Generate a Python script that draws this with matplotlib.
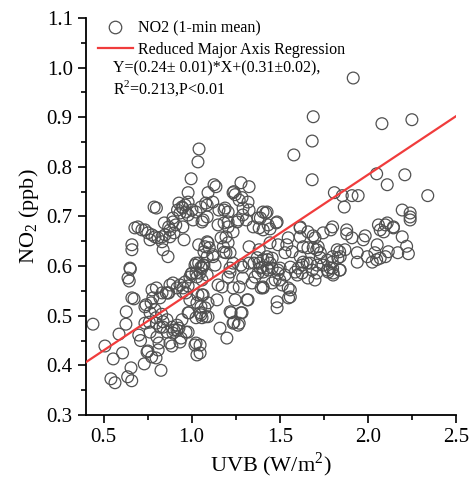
import matplotlib
matplotlib.use("Agg")
import matplotlib.pyplot as plt
from matplotlib.lines import Line2D
import numpy as np

plt.rcParams['font.family'] = ['Liberation Serif', 'DejaVu Serif']
plt.rcParams['mathtext.fontset'] = 'custom'
plt.rcParams['mathtext.rm'] = 'Liberation Serif'

# ---- data (UVB W/m2, NO2 ppb) ----
x_low = [0.44, 0.508, 0.555, 0.608, 0.588, 0.627, 0.629, 0.673, 0.646, 0.652, 0.656, 0.542, 0.565,
         0.637, 0.66, 0.731, 0.752, 0.773, 0.798, 0.826, 0.70, 0.71, 0.741, 0.77, 0.78, 0.80, 0.792,
         0.798, 0.76, 0.80, 0.815, 0.81, 0.838, 0.856, 0.83, 0.87, 0.888, 0.90, 0.928, 0.94, 0.968,
         0.95, 0.968, 0.661, 0.735, 0.764, 0.838, 0.82, 0.764, 0.735, 0.747, 0.803, 0.86, 0.894,
         0.917, 0.98, 0.877, 0.934, 1.019, 1.03, 0.775, 0.82, 0.832, 0.866, 0.877, 0.894, 0.917,
         0.934, 0.951, 0.963, 0.99, 1.03, 1.059, 1.059, 0.99, 1.03, 0.98, 1.048, 1.059, 1.076, 0.945,
         0.917, 0.889, 0.86]
y_low = [0.483, 0.439, 0.413, 0.425, 0.463, 0.483, 0.508, 0.534, 0.570, 0.594, 0.395, 0.373, 0.365,
         0.377, 0.369, 0.403, 0.429, 0.417, 0.415, 0.39, 0.461, 0.45, 0.522, 0.526, 0.536, 0.556, 0.512,
         0.496, 0.487, 0.485, 0.445, 0.431, 0.477, 0.546, 0.503, 0.546, 0.439, 0.471, 0.475, 0.455, 0.467,
         0.548, 0.546, 0.536, 0.518, 0.506, 0.488, 0.477, 0.467, 0.485, 0.427, 0.457, 0.467, 0.465,
         0.471, 0.467, 0.445, 0.447, 0.441, 0.421, 0.552, 0.536, 0.546, 0.546, 0.562, 0.566, 0.556,
         0.562, 0.556, 0.568, 0.578, 0.578, 0.572, 0.542, 0.532, 0.526, 0.506, 0.506, 0.496, 0.516, 0.492,
         0.481, 0.477, 0.492]

x_upper = [1.042, 1.036, 0.997, 0.98, 0.98, 0.928, 0.92, 0.95, 0.968, 0.80, 0.787, 0.678, 0.695,
           0.718, 0.735, 0.752, 0.775, 0.792, 0.809, 0.832, 0.849, 0.877, 0.764, 0.832, 0.838, 0.866,
           0.661, 0.661, 0.65, 0.639, 0.845, 0.87, 0.894, 0.91, 0.9, 0.95, 0.957, 1.025, 1.053, 1.08,
           1.065, 1.093, 1.12, 1.127, 1.138, 1.155, 1.184, 1.207, 1.15, 1.184, 1.207, 1.195, 1.167,
           1.207, 1.235, 1.04, 1.093, 1.07, 1.12, 1.1, 1.18, 1.184, 1.195, 1.235, 1.24, 1.27, 1.28,
           1.326, 1.32, 1.326, 1.31, 1.264, 1.29, 1.377, 1.383, 1.405, 1.35, 1.326, 1.383, 1.405, 1.354,
           1.28, 1.235, 1.025, 1.053, 0.945, 0.963, 0.934, 1.002, 0.98, 0.894, 1.008, 1.059, 1.088,
           0.877, 1.076, 1.088, 1.019, 1.059, 1.002, 1.048, 1.088]
y_upper = [0.836, 0.81, 0.776, 0.748, 0.729, 0.727, 0.713, 0.717, 0.709, 0.717, 0.719, 0.677, 0.679,
           0.673, 0.673, 0.667, 0.663, 0.659, 0.657, 0.659, 0.663, 0.659, 0.653, 0.649, 0.633, 0.619,
           0.643, 0.633, 0.596, 0.576, 0.687, 0.679, 0.689, 0.683, 0.667, 0.679, 0.653, 0.709, 0.719, 0.727,
           0.693, 0.748, 0.729, 0.764, 0.76, 0.713, 0.713, 0.709, 0.683, 0.687, 0.679, 0.659, 0.657,
           0.647, 0.669, 0.643, 0.647, 0.629, 0.623, 0.637, 0.639, 0.628, 0.627, 0.748, 0.75, 0.733, 0.768,
           0.76, 0.729, 0.713, 0.693, 0.693, 0.703, 0.697, 0.677, 0.709, 0.679, 0.639, 0.633, 0.613, 0.606,
           0.602, 0.606, 0.606, 0.598, 0.719, 0.723, 0.707, 0.713, 0.703, 0.697, 0.693, 0.689, 0.699,
           0.673, 0.639, 0.619, 0.602, 0.596, 0.586, 0.586, 0.582]

x_mid = [1.088, 1.247, 1.286, 1.292, 1.19, 1.207, 1.258, 1.428, 1.485, 1.406, 1.434, 1.445, 1.088,
         1.218, 1.122, 1.133, 1.218, 1.065, 1.372, 1.428, 1.445, 1.428, 1.389, 1.457, 1.406, 1.502,
         1.49, 1.54, 1.548, 1.57, 1.616, 1.66, 1.70, 1.746, 1.79, 1.616, 1.633, 1.66, 1.69, 1.718,
         1.616, 1.633, 1.673, 1.73, 1.77, 1.798, 1.80, 1.77, 1.712, 1.605, 1.56, 1.53]
y_mid = [0.723, 0.744, 0.738, 0.717, 0.717, 0.689, 0.689, 0.709, 0.689, 0.673, 0.683, 0.675, 0.649,
         0.627, 0.619, 0.602, 0.596, 0.602, 0.617, 0.619, 0.606, 0.596, 0.596, 0.596, 0.588, 0.596,
         0.643, 0.643, 0.657, 0.629, 0.677, 0.669, 0.657, 0.667, 0.673, 0.659, 0.639, 0.637, 0.637, 0.639,
         0.619, 0.608, 0.606, 0.617, 0.612, 0.608, 0.596, 0.592, 0.602, 0.596, 0.598, 0.582]

x_lowmid = [1.065, 1.093, 1.093, 1.144, 1.15, 1.173, 1.207, 1.218, 1.235, 1.247, 1.218, 1.286, 1.235,
            1.264, 1.161, 1.20, 1.315, 1.343, 1.36, 1.406, 1.457, 1.474, 1.514, 1.548, 1.56, 1.485,
            1.485, 1.60, 1.627, 1.66, 1.70, 1.71, 1.775, 1.803, 1.048, 1.048, 1.224, 1.24, 1.27, 1.28,
            1.27, 1.29, 1.32, 1.377, 1.394, 1.29, 1.326, 1.383, 0.98, 0.997, 1.025, 1.04, 1.07, 0.985,
            1.025, 1.053, 1.08, 1.025, 1.036, 1.053]
y_lowmid = [0.542, 0.526, 0.498, 0.532, 0.562, 0.558, 0.578, 0.588, 0.556, 0.532, 0.508, 0.506, 0.485,
            0.481, 0.475, 0.455, 0.532, 0.566, 0.578, 0.556, 0.566, 0.572, 0.562, 0.556, 0.538, 0.528,
            0.516, 0.582, 0.586, 0.576, 0.572, 0.586, 0.588, 0.586, 0.441, 0.425, 0.506, 0.487, 0.485, 0.506,
            0.558, 0.576, 0.532, 0.586, 0.556, 0.598, 0.606, 0.606, 0.56, 0.584, 0.586, 0.606, 0.602, 0.506,
            0.496, 0.502, 0.498, 0.445, 0.542, 0.518]

x_right = [1.69, 1.88, 1.91, 1.985, 1.974, 2.06, 2.11, 2.07, 2.145, 2.195, 2.24, 1.445, 1.53, 1.71,
           1.73, 1.80, 1.84, 1.87, 1.94, 1.997, 2.04, 2.05, 2.116, 2.17, 1.94, 2.025, 2.07, 1.655, 1.627,
           1.588, 1.684, 1.746, 1.84, 1.83, 1.43, 1.457, 1.40, 1.435, 1.49, 1.405, 1.50, 1.56, 1.55,
           1.49, 1.826, 1.843, 2.053, 2.10, 2.09, 1.843, 1.786, 1.803, 2.22, 2.23]
y_right = [0.661, 0.665, 0.657, 0.661, 0.653, 0.683, 0.687, 0.673, 0.677, 0.659, 0.693, 0.647, 0.627, 0.633,
           0.627, 0.619, 0.629, 0.633, 0.627, 0.619, 0.627, 0.613, 0.629, 0.627, 0.608, 0.608, 0.616, 0.606,
           0.602, 0.588, 0.592, 0.602, 0.592, 0.616, 0.613, 0.616, 0.598, 0.592, 0.592, 0.558, 0.572, 0.552,
           0.536, 0.586, 0.633, 0.619, 0.643, 0.619, 0.669, 0.592, 0.596, 0.582, 0.64, 0.625]

x_top = [1.69, 1.684, 1.58, 2.08, 2.25, 1.684, 2.05, 2.11, 2.21, 2.34, 1.81, 1.855, 1.91, 1.945, 1.866,
         1.42, 1.48, 1.616, 1.80, 1.88, 2.195, 2.24, 2.24, 2.10, 2.145, 1.39, 1.917]
y_top = [0.901, 0.852, 0.824, 0.887, 0.895, 0.774, 0.786, 0.764, 0.784, 0.742, 0.748, 0.742, 0.742, 0.742,
         0.719, 0.707, 0.687, 0.679, 0.679, 0.673, 0.713, 0.707, 0.699, 0.683, 0.679, 0.697, 0.979]

uvb = x_low + x_upper + x_mid + x_lowmid + x_right + x_top
no2 = y_low + y_upper + y_mid + y_lowmid + y_right + y_top

# Reduced major axis regression line
slope = 0.236
intercept = 0.312
line_x = [0.4, 2.5]

fig = plt.figure(figsize=(4.72, 4.83), dpi=100)
ax = fig.add_axes([0.182, 0.1408, 0.784, 0.822])

ax.scatter(uvb, no2, s=72, facecolors='none', edgecolors='#505050', linewidths=0.9, zorder=2)
lx = np.array(line_x)
ax.plot(lx, slope * lx + intercept, color='#f03c3c', lw=1.6, zorder=3)

ax.set_xlim(0.4, 2.5)
ax.set_ylim(0.3, 1.1)
ax.set_xticks([0.5, 1.0, 1.5, 2.0, 2.5])
ax.set_yticks([0.3, 0.4, 0.5, 0.6, 0.7, 0.8, 0.9, 1.0, 1.1])
ax.set_xticks([0.75, 1.25, 1.75, 2.25], minor=True)
ax.set_yticks([0.35, 0.45, 0.55, 0.65, 0.75, 0.85, 0.95, 1.05], minor=True)
ax.tick_params(which='major', direction='out', length=6, width=1.2, labelsize=15, colors='black')
ax.tick_params(which='minor', direction='out', length=3.5, width=1.2)
for s in ['top', 'right']:
    ax.spines[s].set_visible(False)
for s in ['left', 'bottom']:
    ax.spines[s].set_linewidth(1.3)

ax.set_xlabel('UVB (W/m$^2$)', fontsize=16, labelpad=2)
ax.set_ylabel('NO$_2$ (ppb)', fontsize=16, labelpad=4)

handles = [Line2D([], [], marker='o', ls='none', markersize=9, markerfacecolor='none',
                  markeredgecolor='#505050', markeredgewidth=0.9),
           Line2D([], [], color='#f03c3c', lw=1.6)]
ax.legend(handles, ['NO2 (1-min mean)', 'Reduced Major Axis Regression'], loc='upper left',
          bbox_to_anchor=(0.025, 1.0), frameon=False, fontsize=11.5, handlelength=2.2,
          handletextpad=0.35, borderaxespad=0.0, borderpad=0.15, labelspacing=0.33)
ax.text(0.073, 0.874, 'Y=(0.24\u00b1 0.01)*X+(0.31\u00b10.02),', transform=ax.transAxes,
        fontsize=11.5, va='center', ha='left')
ax.text(0.073, 0.823, 'R$^2$=0.213,P<0.01', transform=ax.transAxes,
        fontsize=11.5, va='center', ha='left')

fig.savefig('out.png', dpi=100)
